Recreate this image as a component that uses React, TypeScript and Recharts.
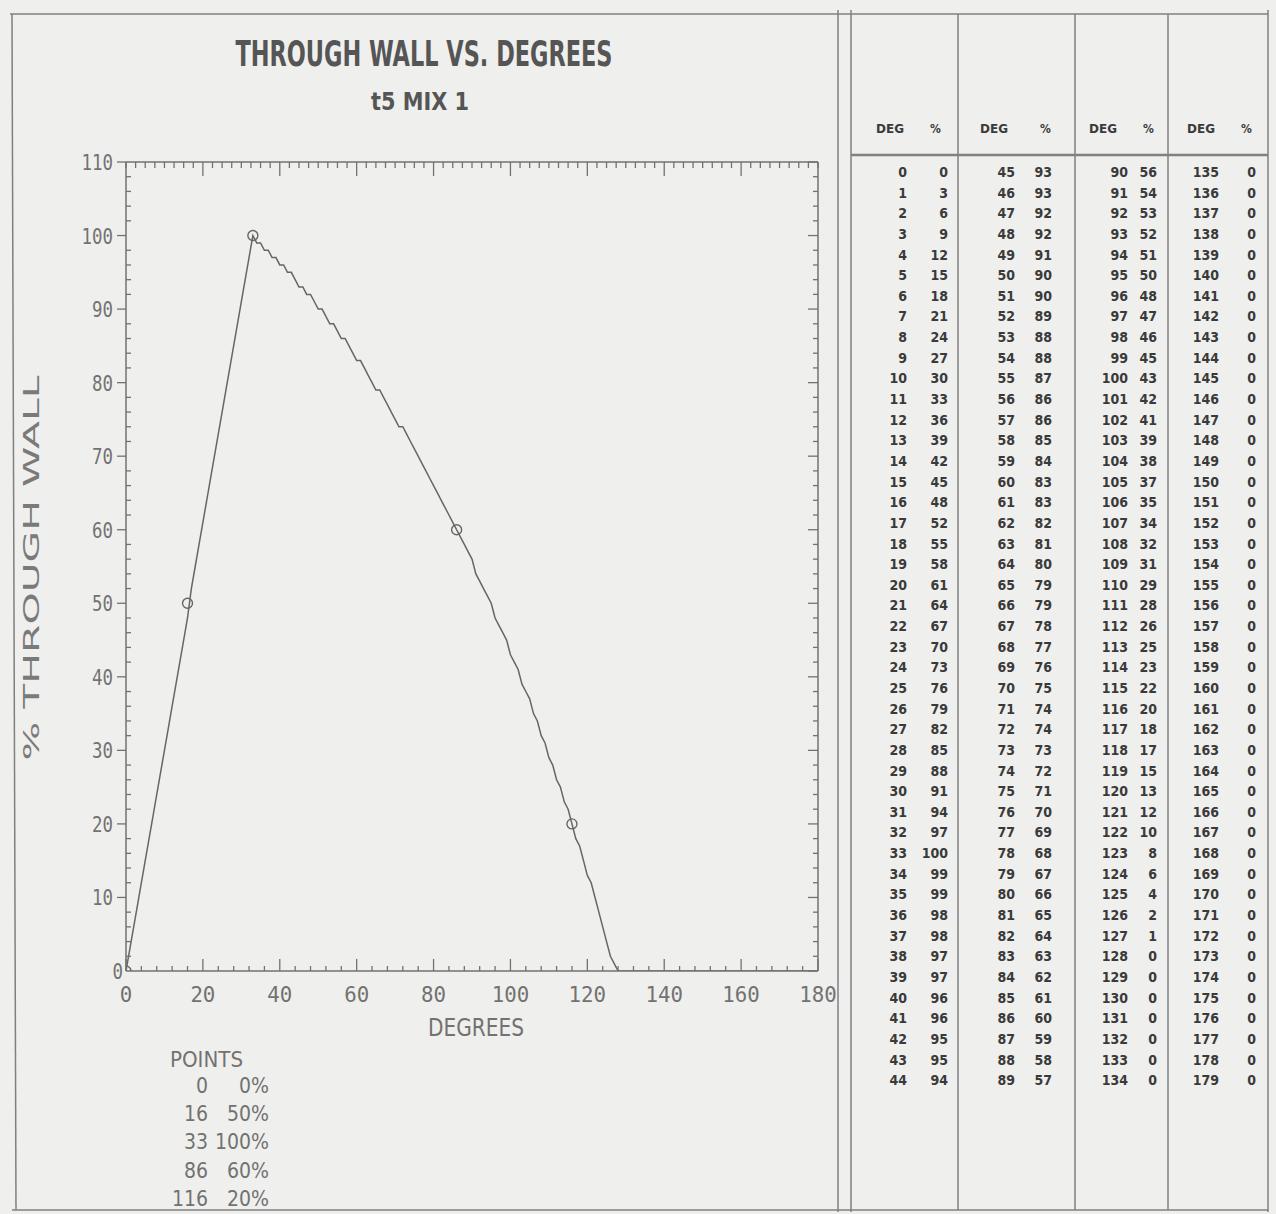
import React from 'react';
import { ComposedChart, Line, Scatter, XAxis, YAxis } from 'recharts';

// percent through wall, one list per table column (45 degrees each)
const PCT_COL_1 = [0, 3, 6, 9, 12, 15, 18, 21, 24, 27, 30, 33, 36, 39, 42, 45, 48, 52, 55, 58, 61, 64, 67, 70, 73, 76, 79, 82, 85, 88, 91, 94, 97, 100, 99, 99, 98, 98, 97, 97, 96, 96, 95, 95, 94];
const PCT_COL_2 = [93, 93, 92, 92, 91, 90, 90, 89, 88, 88, 87, 86, 86, 85, 84, 83, 83, 82, 81, 80, 79, 79, 78, 77, 76, 75, 74, 74, 73, 72, 71, 70, 69, 68, 67, 66, 65, 64, 63, 62, 61, 60, 59, 58, 57];
const PCT_COL_3 = [56, 54, 53, 52, 51, 50, 48, 47, 46, 45, 43, 42, 41, 39, 38, 37, 35, 34, 32, 31, 29, 28, 26, 25, 23, 22, 20, 18, 17, 15, 13, 12, 10, 8, 6, 4, 2, 1, 0, 0, 0, 0, 0, 0, 0];
const PCT_COL_4 = [0, 0, 0, 0, 0, 0, 0, 0, 0, 0, 0, 0, 0, 0, 0, 0, 0, 0, 0, 0, 0, 0, 0, 0, 0, 0, 0, 0, 0, 0, 0, 0, 0, 0, 0, 0, 0, 0, 0, 0, 0, 0, 0, 0, 0];
const TABLE_COLUMNS = [PCT_COL_1, PCT_COL_2, PCT_COL_3, PCT_COL_4];
const COLUMN_START_DEG = [0, 45, 90, 135];

// input points
const POINT_DEG = [0, 16, 33, 86, 116];
const POINT_PCT = [0, 50, 100, 60, 20];

const X_LABELS = [0, 20, 40, 60, 80, 100, 120, 140, 160, 180];
const Y_LABELS = [0, 10, 20, 30, 40, 50, 60, 70, 80, 90, 100, 110];

const curveData = TABLE_COLUMNS.flatMap((col, c) =>
  col.map((pct, i) => ({ deg: COLUMN_START_DEG[c] + i, pct }))
);
const pointData = POINT_DEG.map((deg, i) => ({ deg, pct: POINT_PCT[i] }));

const bottomTicks: number[] = [];
for (let d = 0; d <= 180; d += 4) bottomTicks.push(d);
const topTicks: number[] = [];
for (let d = 0; d <= 180; d += 2.5) topTicks.push(d);
const sideTicks: number[] = [];
for (let v = 0; v <= 110; v += 2) sideTicks.push(v);

const INK = '#727272';
const PLOT_FONT = '"DejaVu Sans Mono", monospace';
const NARROW = '"Liberation Sans Narrow", "DejaVu Sans Condensed", sans-serif';

function BottomTick({ x, y, payload }: any) {
  const major = X_LABELS.includes(payload.value);
  const label = String(payload.value);
  return (
    <g>
      <line x1={x} y1={y} x2={x} y2={y - (major ? 12 : 5)} stroke={INK} strokeWidth={1.3} />
      {major && (
        <text x={x} y={y + 31} textAnchor="middle" fontSize={22} fill={INK} fontFamily={PLOT_FONT}
          textLength={label.length * 12.5} lengthAdjust="spacingAndGlyphs">
          {label}
        </text>
      )}
    </g>
  );
}

function TopTick({ x, y, payload }: any) {
  const major = payload.value % 20 === 0 && payload.value > 0 && payload.value < 180;
  return <line x1={x} y1={y} x2={x} y2={y + (major ? 14 : 6)} stroke={INK} strokeWidth={1.3} />;
}

function LeftTick({ x, y, payload }: any) {
  const major = Y_LABELS.includes(payload.value);
  const label = String(payload.value);
  return (
    <g>
      {major ? (
        payload.value > 0 && <line x1={x - 9} y1={y} x2={x} y2={y} stroke={INK} strokeWidth={1.3} />
      ) : (
        <line x1={x} y1={y} x2={x + 5} y2={y} stroke={INK} strokeWidth={1.3} />
      )}
      {major && (
        <text x={payload.value > 0 ? x - 13 : x - 3} y={y + 8} textAnchor="end" fontSize={22} fill={INK}
          fontFamily={PLOT_FONT} textLength={label.length * 10.5} lengthAdjust="spacingAndGlyphs">
          {label}
        </text>
      )}
    </g>
  );
}

function RightTick({ x, y, payload }: any) {
  const major = Y_LABELS.includes(payload.value);
  return <line x1={x} y1={y} x2={x - (major ? 10 : 5)} y2={y} stroke={INK} strokeWidth={1.3} />;
}

function HollowPoint({ cx, cy }: any) {
  return <circle cx={cx} cy={cy} r={5} fill="none" stroke="#666" strokeWidth={1.4} />;
}

// column layout of the degree table
const COL_DEG_RIGHT = [907, 1015, 1128, 1219];
const COL_PCT_RIGHT = [948, 1052, 1157, 1256];
const HEADER_DEG_X = [876, 980, 1089, 1187];
const HEADER_PCT_X = [930, 1040, 1143, 1241];
const ROW_TOP = 177;
const ROW_STEP = 20.64;

function DegreeTable() {
  return (
    <g fontFamily={NARROW} fontWeight="bold" fill="#3a3a3a">
      {HEADER_DEG_X.map((hx, c) => (
        <g key={`h${c}`}>
          <text x={hx} y={133} fontSize={12} textLength={28} lengthAdjust="spacingAndGlyphs">DEG</text>
          <text x={HEADER_PCT_X[c]} y={133} fontSize={12}>%</text>
        </g>
      ))}
      {TABLE_COLUMNS.map((col, c) =>
        col.map((pct, i) => (
          <g key={`r${c}-${i}`} fontSize={14}>
            <text x={COL_DEG_RIGHT[c]} y={ROW_TOP + i * ROW_STEP} textAnchor="end">
              {COLUMN_START_DEG[c] + i}
            </text>
            <text x={COL_PCT_RIGHT[c]} y={ROW_TOP + i * ROW_STEP} textAnchor="end">
              {pct}
            </text>
          </g>
        ))
      )}
    </g>
  );
}

function Annotations() {
  const rule = { stroke: '#808080', strokeWidth: 1.5 };
  return (
    <svg
      width={1276}
      height={1214}
      style={{ position: 'absolute', left: 0, top: 0, pointerEvents: 'none' }}
    >
      {/* sheet frame */}
      <line x1={10} y1={14} x2={1268} y2={14} {...rule} />
      <line x1={12} y1={1210} x2={1268} y2={1210} {...rule} />
      <line x1={12} y1={14} x2={16} y2={1210} {...rule} />
      <line x1={838} y1={10} x2={838} y2={1212} {...rule} />
      <line x1={851} y1={10} x2={851} y2={1212} {...rule} />
      <line x1={958} y1={14} x2={958} y2={1210} {...rule} />
      <line x1={1075} y1={14} x2={1075} y2={1210} {...rule} />
      <line x1={1168} y1={14} x2={1168} y2={1210} {...rule} />
      <line x1={1268} y1={10} x2={1268} y2={1212} {...rule} />
      <line x1={851} y1={155} x2={1268} y2={155} stroke="#808080" strokeWidth={2.5} />

      {/* titles */}
      <text x={424} y={66} textAnchor="middle" fontSize={36} fontWeight="bold" fill="#555"
        fontFamily={NARROW} textLength={377} lengthAdjust="spacingAndGlyphs">
        THROUGH WALL VS. DEGREES
      </text>
      <text x={420} y={110} textAnchor="middle" fontSize={24} fontWeight="bold" fill="#555"
        fontFamily={NARROW} textLength={98} lengthAdjust="spacingAndGlyphs">
        t5  MIX 1
      </text>

      <text transform="translate(39 568) rotate(-90)" textAnchor="middle" fontSize={22} fill="#7a7a7a"
        fontFamily={NARROW} textLength={385} lengthAdjust="spacingAndGlyphs">
        % THROUGH WALL
      </text>
      <text x={476} y={1036} textAnchor="middle" fontSize={24} fill={INK}
        fontFamily={NARROW} textLength={96} lengthAdjust="spacingAndGlyphs">
        DEGREES
      </text>

      {/* list of input points */}
      <text x={170} y={1067} fontSize={21} fill={INK} fontFamily={NARROW}
        textLength={73} lengthAdjust="spacingAndGlyphs">POINTS</text>
      {POINT_DEG.map((deg, i) => (
        <g key={deg} fontSize={21} fill={INK} fontFamily={NARROW}>
          <text x={208} y={1093 + i * 28.2} textAnchor="end">{deg}</text>
          <text x={269} y={1093 + i * 28.2} textAnchor="end">{POINT_PCT[i]}%</text>
        </g>
      ))}

      <DegreeTable />
    </svg>
  );
}

export default function App() {
  return (
    <div
      style={{
        position: 'absolute',
        left: 0,
        top: 0,
        width: 1276,
        height: 1214,
        background: '#efefed',
        overflow: 'hidden',
      }}
    >
      <div style={{ position: 'absolute', left: 0, top: 0 }}>
        <ComposedChart
          width={850}
          height={1214}
          margin={{ top: 152, right: 22, bottom: 203, left: 66 }}
        >
          <XAxis
            xAxisId="bottom"
            dataKey="deg"
            type="number"
            domain={[0, 180]}
            allowDataOverflow
            ticks={bottomTicks}
            interval={0}
            height={40}
            tickSize={0}
            tickMargin={0}
            tickLine={false}
            tick={BottomTick}
            axisLine={{ stroke: INK, strokeWidth: 1.5 }}
          />
          <XAxis
            xAxisId="top"
            orientation="top"
            dataKey="deg"
            type="number"
            domain={[0, 180]}
            allowDataOverflow
            ticks={topTicks}
            interval={0}
            height={10}
            tickSize={0}
            tickMargin={0}
            tickLine={false}
            tick={TopTick}
            axisLine={{ stroke: INK, strokeWidth: 1.5 }}
          />
          <YAxis
            yAxisId="left"
            dataKey="pct"
            type="number"
            domain={[0, 110]}
            allowDataOverflow
            ticks={sideTicks}
            interval={0}
            width={60}
            tickSize={0}
            tickMargin={0}
            tickLine={false}
            tick={LeftTick}
            axisLine={{ stroke: INK, strokeWidth: 1.5 }}
          />
          <YAxis
            yAxisId="right"
            orientation="right"
            dataKey="pct"
            type="number"
            domain={[0, 110]}
            allowDataOverflow
            ticks={sideTicks}
            interval={0}
            width={10}
            tickSize={0}
            tickMargin={0}
            tickLine={false}
            tick={RightTick}
            axisLine={{ stroke: INK, strokeWidth: 1.5 }}
          />
          <Line
            data={curveData}
            xAxisId="bottom"
            yAxisId="left"
            dataKey="pct"
            type="linear"
            stroke="#666"
            strokeWidth={1.5}
            dot={false}
            activeDot={false}
            isAnimationActive={false}
          />
          <Scatter
            data={pointData}
            xAxisId="bottom"
            yAxisId="left"
            dataKey="pct"
            shape={HollowPoint}
            isAnimationActive={false}
          />
        </ComposedChart>
      </div>
      <Annotations />
    </div>
  );
}
